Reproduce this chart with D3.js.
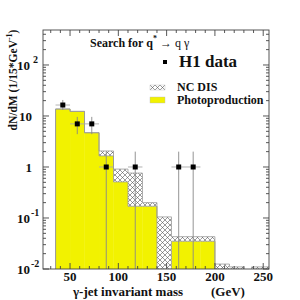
<!DOCTYPE html>
<html>
<head>
<meta charset="utf-8">
<script src="https://cdn.jsdelivr.net/npm/d3@7"></script>
<style>
  body { margin: 0; background: #fff; }
  text { font-family: "Liberation Serif", "DejaVu Serif", serif; font-weight: bold; fill: #111; }
</style>
</head>
<body>
<svg id="chart" width="300" height="300"></svg>
<script>
// bins (GeV)
var binLow  = [35, 50, 65, 80, 95, 110, 125, 140, 155, 170, 185, 200, 215, 238];
var binHigh = [50, 65, 80, 95, 110, 125, 140, 155, 170, 185, 200, 215, 230, 256];
// stacked MC: photoproduction at the bottom, NC DIS on top
var photoprod = [13.7, 12.3, 4.7, 1.65, 0.51, 0.17, 0.17, 0, 0.035, 0.035, 0.035, 0, 0, 0];
var ncDis     = [0, 0, 0, 0.41, 0.40, 0.59, 0.03, 0.105, 0.008, 0.008, 0.008, 0.0125, 0.011, 0.011];
// H1 data points
var dataX    = [42.5, 57.5, 72.5, 87.5, 117.5, 162.5, 177.5];
var dataY    = [16.4, 7.0, 7.0, 1.0, 1.0, 1.0, 1.0];
var dataUp   = [20.6, 9.6, 9.6, 2.0, 2.0, 2.0, 2.0];
var dataDown = [13.1, 4.4, 4.4, 0, 0, 0, 0];
var xTicks = [50, 100, 150, 200, 250];
var yTicks = [0.01, 0.1, 1, 10, 100];

(function() {
var svg = d3.select("#chart");
var pl = 43, pt = 30, pr = 269, pb = 269;
var yMin = 0.01;

var x = d3.scaleLinear().domain([22, 256]).range([pl, pr]);
var y = d3.scaleLog().domain([yMin, 485]).range([pb, pt]);

var defs = svg.append("defs");
var pat = defs.append("pattern")
    .attr("id", "hatch")
    .attr("patternUnits", "userSpaceOnUse")
    .attr("width", 5).attr("height", 5);
pat.append("rect").attr("width", 5).attr("height", 5).attr("fill", "#fff");
pat.append("path")
    .attr("d", "M0,0L5,5M5,0L0,5")
    .attr("stroke", "#555").attr("stroke-width", 0.6);

defs.append("clipPath").attr("id", "plot")
  .append("rect").attr("x", pl).attr("y", pt).attr("width", pr - pl).attr("height", pb - pt);

var g = svg.append("g").attr("clip-path", "url(#plot)");

var bins = binLow.map(function(lo, i) {
    return {lo: lo, hi: binHigh[i], p: photoprod[i], n: ncDis[i]};
});

// photoproduction
g.selectAll("rect.photo")
    .data(bins.filter(function(d) { return d.p > 0; }))
    .enter().append("rect")
    .attr("class", "photo")
    .attr("x", function(d) { return x(d.lo); })
    .attr("width", function(d) { return x(d.hi) - x(d.lo) + 0.3; })
    .attr("y", function(d) { return y(d.p); })
    .attr("height", function(d) { return y(yMin) - y(d.p); })
    .attr("fill", "#f2f200");

// NC DIS stacked on top
g.selectAll("rect.dis")
    .data(bins.filter(function(d) { return d.n > 0; }))
    .enter().append("rect")
    .attr("class", "dis")
    .attr("x", function(d) { return x(d.lo); })
    .attr("width", function(d) { return x(d.hi) - x(d.lo); })
    .attr("y", function(d) { return y(d.p + d.n); })
    .attr("height", function(d) { return y(Math.max(d.p, yMin)) - y(d.p + d.n); })
    .attr("fill", "url(#hatch)");

// step outlines for the two stack levels
function stepLine(getV) {
    var path = d3.path();
    bins.forEach(function(d, i) {
        var v = Math.max(getV(d), yMin);
        var prev = i > 0 && binHigh[i - 1] === d.lo ? Math.max(getV(bins[i - 1]), yMin) : yMin;
        if (i === 0 || binHigh[i - 1] !== d.lo) path.moveTo(x(d.lo), y(yMin));
        else path.moveTo(x(d.lo), y(prev));
        path.lineTo(x(d.lo), y(v));
        path.lineTo(x(d.hi), y(v));
        var next = i < bins.length - 1 && binLow[i + 1] === d.hi ? null : yMin;
        if (next !== null) path.lineTo(x(d.hi), y(yMin));
    });
    return path.toString();
}
g.append("path").attr("d", stepLine(function(d) { return d.p; }))
    .attr("fill", "none").attr("stroke", "#999").attr("stroke-width", 0.8);
g.append("path").attr("d", stepLine(function(d) { return d.p + d.n; }))
    .attr("fill", "none").attr("stroke", "#999").attr("stroke-width", 0.8);

// data points
var pts = dataX.map(function(v, i) {
    return {x: v, y: dataY[i], up: dataUp[i], dn: dataDown[i]};
});
g.selectAll("line.ev")
    .data(pts).enter().append("line")
    .attr("x1", function(d) { return x(d.x); })
    .attr("x2", function(d) { return x(d.x); })
    .attr("y1", function(d) { return y(d.up); })
    .attr("y2", function(d) { return d.dn > 0 ? y(d.dn) : pb; })
    .attr("stroke", "#888").attr("stroke-width", 0.9);
g.selectAll("line.eh")
    .data(pts).enter().append("line")
    .attr("x1", function(d) { return x(d.x - 7.5); })
    .attr("x2", function(d) { return x(d.x + 7.5); })
    .attr("y1", function(d) { return y(d.y); })
    .attr("y2", function(d) { return y(d.y); })
    .attr("stroke", "#aaa").attr("stroke-width", 0.9);
g.selectAll("rect.pt")
    .data(pts).enter().append("rect")
    .attr("x", function(d) { return x(d.x) - 2.5; })
    .attr("y", function(d) { return y(d.y) - 2.5; })
    .attr("width", 5).attr("height", 5)
    .attr("fill", "#000");

// frame and ticks
var ax = svg.append("g").attr("stroke", "#444").attr("stroke-width", 0.9);
ax.append("rect").attr("x", pl).attr("y", pt).attr("width", pr - pl).attr("height", pb - pt)
    .attr("fill", "none");
d3.range(30, 260, 10).forEach(function(v) {
    var len = v % 50 === 0 ? 6 : 3;
    ax.append("line").attr("x1", x(v)).attr("x2", x(v)).attr("y1", pb).attr("y2", pb - len);
    ax.append("line").attr("x1", x(v)).attr("x2", x(v)).attr("y1", pt).attr("y2", pt + len);
});
var yMinor = [];
[0.01, 0.1, 1, 10, 100].forEach(function(dec) {
    for (var k = 1; k < 10; k++) if (dec * k < 485) yMinor.push(dec * k);
});
yMinor.forEach(function(v) {
    var len = yTicks.indexOf(v) >= 0 ? 6 : 3;
    ax.append("line").attr("x1", pl).attr("x2", pl + len).attr("y1", y(v)).attr("y2", y(v));
    ax.append("line").attr("x1", pr).attr("x2", pr - len).attr("y1", y(v)).attr("y2", y(v));
});

// x tick labels
svg.selectAll("text.xt")
    .data(xTicks).enter().append("text")
    .attr("x", function(d) { return x(d); })
    .attr("y", 281)
    .attr("text-anchor", "middle")
    .attr("font-size", 13)
    .text(function(d) { return d; });

// y tick labels
yTicks.forEach(function(v) {
    var e = Math.round(Math.log10(v));
    var t = svg.append("text").attr("y", y(v) + 5).attr("font-size", 13);
    if (e === 0 || e === 1) {
        t.attr("x", 32).attr("text-anchor", "end").text(e === 0 ? "1" : "10");
    } else {
        t.attr("x", 17).text("10");
        t.append("tspan").attr("x", e < 0 ? 31 : 33).attr("dy", -7).attr("font-size", 10).text(e);
    }
});

// axis titles
var yl = svg.append("text")
    .attr("transform", "translate(17,80) rotate(-90)")
    .attr("text-anchor", "middle")
    .attr("font-size", 11.5);
yl.append("tspan").text("dN/dM (1/15*GeV");
yl.append("tspan").attr("dy", -5).attr("font-size", 8).text("-1");
yl.append("tspan").attr("dy", 5).text(")");

svg.append("text").attr("x", 73).attr("y", 296).attr("font-size", 13).text("γ-jet invariant mass");
svg.append("text").attr("x", 211).attr("y", 296).attr("font-size", 13).text("(GeV)");

// title
var title = svg.append("text").attr("x", 90).attr("y", 47).attr("font-size", 12);
title.append("tspan").text("Search for q");
title.append("tspan").attr("dy", -6).attr("font-size", 8).text("*");
title.append("tspan").attr("dy", 6).attr("font-weight", "normal").text(" \u2192 q \u03b3");

// legend
svg.append("rect").attr("x", 163).attr("y", 60).attr("width", 4).attr("height", 4).attr("fill", "#000");
svg.append("text").attr("x", 179).attr("y", 67).attr("font-size", 17).text("H1 data");

var legItems = [
    {label: "NC DIS", fill: "url(#hatch)", y: 85, h: 5, ty: 90.5},
    {label: "Photoproduction", fill: "#f2f200", y: 97, h: 6, ty: 104}
];
legItems.forEach(function(d) {
    svg.append("rect").attr("x", 150).attr("y", d.y).attr("width", 15).attr("height", d.h)
        .attr("fill", d.fill).attr("stroke", "#bbb").attr("stroke-width", 0.4);
    svg.append("text").attr("x", 177).attr("y", d.ty).attr("font-size", 12).text(d.label);
});
})();
</script>
</body>
</html>
